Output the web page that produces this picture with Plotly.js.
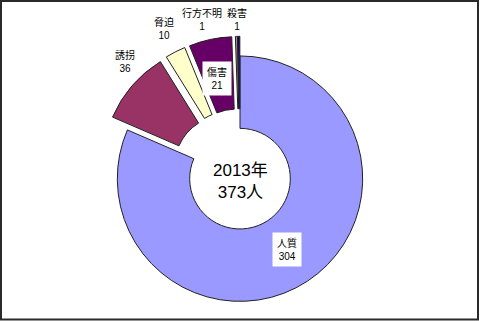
<!DOCTYPE html>
<html>
<head>
<meta charset="utf-8">
<script src="https://cdn.plot.ly/plotly-3.0.1.min.js"></script>
<style>
  html, body { margin: 0; padding: 0; background: #fff; }
  #chart { width: 480px; height: 321px; }
</style>
</head>
<body>
<div id="chart"></div>
<script>
// 2013年 被害者の内訳
const year = 2013;
const categories = ['人質', '誘拐', '脅迫', '傷害', '行方不明', '殺害'];
const counts = [304, 36, 10, 21, 1, 1];

// styling
const sliceColors = ['#9999FF', '#993366', '#FFFFCC', '#660066', '#C08080', '#000080'];
const slicePull = [0, 0.16, 0.16, 0.16, 0.16, 0.16];
// label centres in pixels (x, y from top) and whether they sit in a white box
const labelPos = [[287, 249], [125, 61], [164, 28], [217, 78], [202, 19], [237, 19]];
const labelBoxed = [true, false, false, true, false, false];

const W = 480, H = 321;
const cx = 240, cy = 179, radius = 123;
const maxPull = Math.max(...slicePull);
const half = radius * (1 + maxPull);

const total = counts.reduce((a, b) => a + b, 0);
const font = '"Liberation Sans", Arial, "Noto Sans CJK JP", sans-serif';

const trace = {
  type: 'pie',
  labels: categories,
  values: counts,
  sort: false,
  direction: 'clockwise',
  rotation: 0,
  hole: 0.41,
  pull: slicePull,
  textinfo: 'none',
  hoverinfo: 'label+value',
  marker: { colors: sliceColors, line: { color: '#222', width: 1 } },
  domain: {
    x: [(cx - half) / W, (cx + half) / W],
    y: [Math.max(0, 1 - (cy + half) / H), 1 - (cy - half) / H]
  },
  showlegend: false
};

const annotations = categories.map((name, i) => ({
  xref: 'paper', yref: 'paper',
  x: labelPos[i][0] / W, y: 1 - labelPos[i][1] / H,
  xanchor: 'center', yanchor: 'middle',
  text: name + '<br>' + counts[i],
  showarrow: false,
  font: { family: font, size: 10, color: '#000' },
  bgcolor: labelBoxed[i] ? '#fff' : 'rgba(0,0,0,0)',
  borderpad: 4
}));

annotations.push({
  xref: 'paper', yref: 'paper',
  x: cx / W, y: 1 - (cy + 3) / H,
  xanchor: 'center', yanchor: 'middle',
  text: year + '年<br>' + total + '人',
  showarrow: false,
  font: { family: font, size: 17, color: '#000' }
});

const layout = {
  width: W, height: H,
  margin: { l: 0, r: 0, t: 0, b: 0 },
  paper_bgcolor: '#fff',
  annotations: annotations,
  shapes: [{
    type: 'rect', xref: 'paper', yref: 'paper',
    x0: 1 / W, x1: 478 / W, y0: 1.5 / H, y1: 1 - 1 / H,
    line: { color: '#2a2a2a', width: 2 }
  }]
};

Plotly.newPlot('chart', [trace], layout, { displayModeBar: false, staticPlot: true });
</script>
</body>
</html>
